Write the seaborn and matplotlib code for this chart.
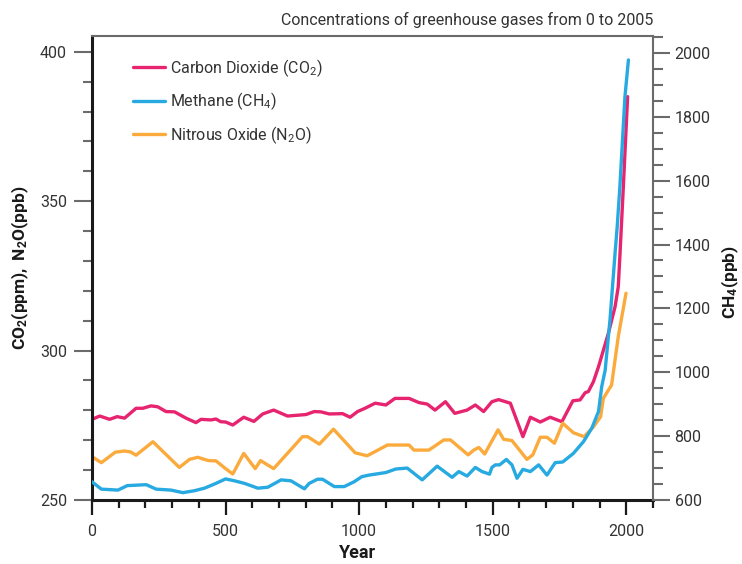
import numpy as np
import pandas as pd
import matplotlib
matplotlib.use('agg')
import matplotlib.pyplot as plt
from matplotlib import font_manager
from matplotlib.ticker import MultipleLocator
import seaborn as sns

# CO2 (ppm), left axis
co2_years = [0, 29, 66, 94, 122, 165, 190, 221, 246, 277, 309, 352, 389, 408, 445, 464, 482, 500,
             527, 568, 606, 639, 680, 732, 801, 832, 857, 888, 938, 966, 994, 1022, 1060, 1100,
             1134, 1187, 1224, 1255, 1284, 1323, 1358, 1404, 1435, 1466, 1497, 1522, 1566, 1613,
             1641, 1678, 1715, 1759, 1800, 1827, 1846, 1858, 1877, 1896, 1933, 1958, 1970, 1976,
             1989, 2005]
co2_values = [277.0, 278.1, 277.0, 277.9, 277.4, 280.7, 280.7, 281.5, 281.2, 279.6, 279.5, 277.4,
              275.9, 277.0, 276.8, 277.1, 276.2, 276.1, 275.1, 277.7, 276.3, 278.8, 280.1, 278.1,
              278.6, 279.6, 279.5, 278.8, 278.9, 277.7, 279.6, 280.7, 282.4, 281.8, 284.0, 284.0,
              282.6, 282.1, 280.1, 282.9, 279.0, 280.1, 281.8, 279.6, 282.9, 283.6, 282.4, 271.2,
              277.7, 276.1, 277.7, 276.2, 283.2, 283.5, 285.9, 286.3, 289.6, 294.6, 305.8, 314.7,
              321.4, 331.5, 354.9, 385.0]

# CH4 (ppb), right axis
ch4_years = [0, 35, 97, 132, 203, 240, 296, 340, 383, 421, 464, 500, 534, 571, 621, 658, 708, 745,
             795, 813, 844, 863, 907, 944, 981, 1010, 1037, 1100, 1137, 1180, 1236, 1292, 1348,
             1373, 1404, 1435, 1460, 1488, 1497, 1510, 1526, 1551, 1572, 1591, 1613, 1641, 1672,
             1703, 1734, 1762, 1802, 1840, 1871, 1896, 1908, 1921, 1939, 1958, 1966, 1976, 1995,
             2008]
ch4_values = [657, 634, 631, 645, 648, 634, 631, 623, 629, 637, 652, 666, 660, 652, 637, 640, 663,
              660, 635, 652, 665, 665, 642, 642, 657, 673, 678, 686, 697, 700, 663, 706, 671, 689,
              675, 702, 689, 681, 702, 710, 710, 727, 710, 668, 696, 689, 710, 678, 717, 719, 746,
              783, 825, 877, 955, 1007, 1164, 1373, 1456, 1581, 1863, 1978]

# N2O (ppb), left axis
n2o_years = [0, 35, 87, 122, 144, 165, 228, 327, 365, 396, 435, 464, 500, 527, 568, 611, 631, 680,
             788, 807, 851, 904, 985, 1030, 1106, 1187, 1205, 1261, 1317, 1342, 1408, 1429, 1448,
             1470, 1520, 1541, 1572, 1628, 1650, 1678, 1703, 1731, 1762, 1802, 1842, 1877, 1904,
             1914, 1945, 1970, 1999]
n2o_values = [264.5, 262.5, 266.0, 266.4, 266.1, 265.0, 269.5, 260.9, 263.6, 264.3, 263.2, 263.1,
              260.5, 258.7, 265.6, 260.5, 263.2, 260.5, 271.2, 271.2, 268.7, 273.7, 265.8, 264.8,
              268.4, 268.4, 266.7, 266.7, 270.1, 270.1, 265.1, 266.7, 267.6, 265.4, 273.5, 270.3,
              269.9, 263.6, 265.1, 271.0, 271.0, 269.0, 275.7, 272.5, 271.2, 274.5, 277.9, 284.0,
              288.5, 304.7, 319.2]

labels = ['Carbon Dioxide (CO$_2$)', 'Methane (CH$_4$)', 'Nitrous Oxide (N$_2$O)']
colors = ['#E6246F', '#27A9E1', '#FBAA3C']

sns.set_theme(style='ticks')

names = {f.name for f in font_manager.fontManager.ttflist}
family = 'Liberation Sans Narrow' if 'Liberation Sans Narrow' in names else 'Roboto'
plt.rcParams['font.family'] = [family, 'DejaVu Sans']
plt.rcParams['mathtext.fontset'] = 'custom'
plt.rcParams['mathtext.rm'] = family
plt.rcParams['mathtext.bf'] = family + ':bold'
plt.rcParams['mathtext.default'] = 'regular'

text_c = '#333333'
gray = '#6b6b6b'

fig = plt.figure(figsize=(7.42, 5.64), dpi=100)
ax = fig.add_axes([92 / 742, 64 / 564, 561 / 742, 464 / 564])
ax2 = ax.twinx()

co2 = pd.DataFrame({'year': co2_years, 'value': co2_values})
ch4 = pd.DataFrame({'year': ch4_years, 'value': ch4_values})
n2o = pd.DataFrame({'year': n2o_years, 'value': n2o_values})

sns.lineplot(data=co2, x='year', y='value', ax=ax, color=colors[0], lw=2.4, label=labels[0], legend=False)
sns.lineplot(data=n2o, x='year', y='value', ax=ax, color=colors[2], lw=2.4, label=labels[2], legend=False)
sns.lineplot(data=ch4, x='year', y='value', ax=ax2, color=colors[1], lw=2.4, label=labels[1], legend=False)

ax.set_xlim(0, 2100)
ax.set_ylim(250, 405.3)
ax2.set_ylim(600, 2053)

ax.set_xticks([0, 500, 1000, 1500, 2000])
ax.xaxis.set_minor_locator(MultipleLocator(100))
ax.set_yticks([250, 300, 350, 400])
ax.yaxis.set_minor_locator(MultipleLocator(10))
ax2.set_yticks(np.arange(600, 2001, 200))
ax2.yaxis.set_minor_locator(MultipleLocator(50))

# spines
for a in (ax, ax2):
    for s in a.spines.values():
        s.set_visible(False)
ax.spines['left'].set_visible(True)
ax.spines['left'].set_linewidth(2.2)
ax.spines['left'].set_color('#1a1a1a')
ax.spines['bottom'].set_visible(True)
ax.spines['bottom'].set_linewidth(2.2)
ax.spines['bottom'].set_color('#1a1a1a')
ax.spines['top'].set_visible(True)
ax.spines['top'].set_linewidth(1.5)
ax.spines['top'].set_color(gray)
ax2.spines['right'].set_visible(True)
ax2.spines['right'].set_linewidth(1.5)
ax2.spines['right'].set_color(gray)

ax.tick_params(axis='x', which='major', direction='out', length=11, width=1.6, color='#1a1a1a',
               labelsize=11.5, labelcolor=text_c, pad=6)
ax.tick_params(axis='x', which='minor', direction='out', length=5.5, width=1.6, color='#1a1a1a')
ax.tick_params(axis='y', which='major', direction='out', length=13, width=1.5, color=gray,
               labelsize=11.5, labelcolor=text_c, pad=5)
ax.tick_params(axis='y', which='minor', direction='out', length=6.5, width=1.5, color=gray)
ax2.tick_params(axis='y', which='major', direction='out', length=12, width=1.5, color=gray,
                labelsize=11.5, labelcolor=text_c, pad=3.5)
ax2.tick_params(axis='y', which='minor', direction='out', length=7, width=1.5, color=gray)

ax.set_xlabel('Year', fontsize=13, fontweight='bold', color='#1a1a1a')
ax.xaxis.set_label_coords(0.474, -0.095)
ax.set_ylabel(r'$\mathbf{CO_2(ppm),}$ $\mathbf{N_2O(ppb)}$', fontsize=12.5, color='#1a1a1a')
ax.yaxis.set_label_coords(-0.108, 0.5)
ax2.set_ylabel(r'$\mathbf{CH_4(ppb)}$', fontsize=12.5, color='#1a1a1a')
ax2.yaxis.set_label_coords(1.118, 0.47)

ax.set_title('Concentrations of greenhouse gases from 0 to 2005', loc='right',
             fontsize=11.5, color=text_c, pad=8)

h1, l1 = ax.get_legend_handles_labels()
h2, l2 = ax2.get_legend_handles_labels()
handles = dict(zip(l1 + l2, h1 + h2))
ax2.legend([handles[l] for l in labels], labels, loc='upper left', bbox_to_anchor=(0.073, 0.955),
           frameon=False, fontsize=11.5, handlelength=2.0, handletextpad=0.3, labelspacing=0.75,
           borderpad=0, borderaxespad=0, labelcolor=text_c)

fig.savefig('out.png', dpi=100)
